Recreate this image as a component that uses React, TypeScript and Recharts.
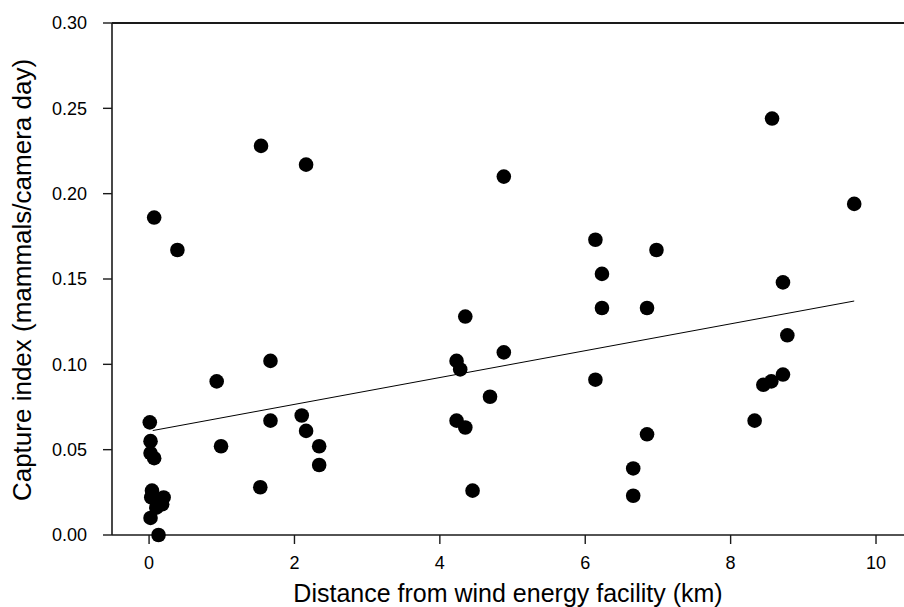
import React from "react";
import { ScatterChart, Scatter, XAxis, YAxis, ReferenceLine } from "recharts";

const distanceKm = [
  0.01, 0.02, 0.02, 0.07, 0.04, 0.03, 0.2, 0.18, 0.1, 0.02, 0.13,
  1.54, 2.16, 0.07, 0.39,
  1.67, 0.93, 1.67, 2.1, 2.16, 2.34, 2.34, 0.99, 1.53,
  4.88, 4.35, 4.88, 4.23, 4.28, 4.69, 4.23, 4.35, 4.45,
  6.14, 6.98, 6.23, 6.23, 6.85, 6.14, 6.85, 6.66, 6.66,
  8.57, 9.7, 8.72, 8.78, 8.72, 8.56, 8.45, 8.33,
];
const captureIndex = [
  0.066, 0.055, 0.048, 0.045, 0.026, 0.022, 0.022, 0.018, 0.016, 0.01, 0.0,
  0.228, 0.217, 0.186, 0.167,
  0.102, 0.09, 0.067, 0.07, 0.061, 0.052, 0.041, 0.052, 0.028,
  0.21, 0.128, 0.107, 0.102, 0.097, 0.081, 0.067, 0.063, 0.026,
  0.173, 0.167, 0.153, 0.133, 0.133, 0.091, 0.059, 0.039, 0.023,
  0.244, 0.194, 0.148, 0.117, 0.094, 0.09, 0.088, 0.067,
];
const fitX = [0.05, 9.7];
const fitY = [0.0612, 0.1371];
const xTicks = [0, 2, 4, 6, 8, 10];
const yTicks = [0, 0.05, 0.1, 0.15, 0.2, 0.25, 0.3];

const points = distanceKm.map((d, i) => ({ x: d, y: captureIndex[i] }));
const fitLine = fitX.map((d, i) => ({ x: d, y: fitY[i] }));

const FONT = "'Liberation Sans', Arial, Helvetica, sans-serif";
const AXIS = "#1a1a1a";

const Dot = (props: any) => <circle cx={props.cx} cy={props.cy} r={7.3} fill="#000" />;
const NoDot = () => <g />;

export default function App() {
  return (
    <div style={{ position: "absolute", left: 0, top: 0, width: 904, height: 607, background: "#fff" }}>
      <ScatterChart width={904} height={607} margin={{ top: 23, right: 0, bottom: 0, left: 0 }}>
        <XAxis
          type="number"
          dataKey="x"
          domain={[-0.51, 10.385]}
          ticks={xTicks}
          axisLine={{ stroke: AXIS, strokeWidth: 1.6 }}
          tickLine={{ stroke: AXIS, strokeWidth: 1.4 }}
          tickSize={9}
          tickMargin={12}
          height={72}
          fontSize={18}
          fontFamily={FONT}
          tick={{ fill: "#000", fontSize: 18, fontFamily: FONT }}
          label={(p: any) => (
            <text x={508} y={602} textAnchor="middle" fontSize={25} fontFamily={FONT} fill="#000">
              Distance from wind energy facility (km)
            </text>
          )}
        />
        <YAxis
          type="number"
          dataKey="y"
          domain={[0, 0.3]}
          ticks={yTicks}
          width={112}
          axisLine={{ stroke: AXIS, strokeWidth: 1.6 }}
          tickLine={{ stroke: AXIS, strokeWidth: 1.4 }}
          tickSize={9}
          tickMargin={16}
          fontSize={18}
          fontFamily={FONT}
          tickFormatter={(v: number) => v.toFixed(2)}
          tick={{ fill: "#000", fontSize: 18, fontFamily: FONT }}
          label={(p: any) => (
            <text
              x={31}
              y={280}
              transform="rotate(-90, 31, 280)"
              textAnchor="middle"
              fontSize={26}
              fontFamily={FONT}
              fill="#000"
            >
              Capture index (mammals/camera day)
            </text>
          )}
        />
        <ReferenceLine y={0.3} stroke={AXIS} strokeWidth={1.8} />
        <Scatter data={fitLine} line={{ stroke: "#000", strokeWidth: 1 }} shape={NoDot} isAnimationActive={false} />
        <Scatter data={points} shape={Dot} fill="#000" isAnimationActive={false} />
      </ScatterChart>
    </div>
  );
}
